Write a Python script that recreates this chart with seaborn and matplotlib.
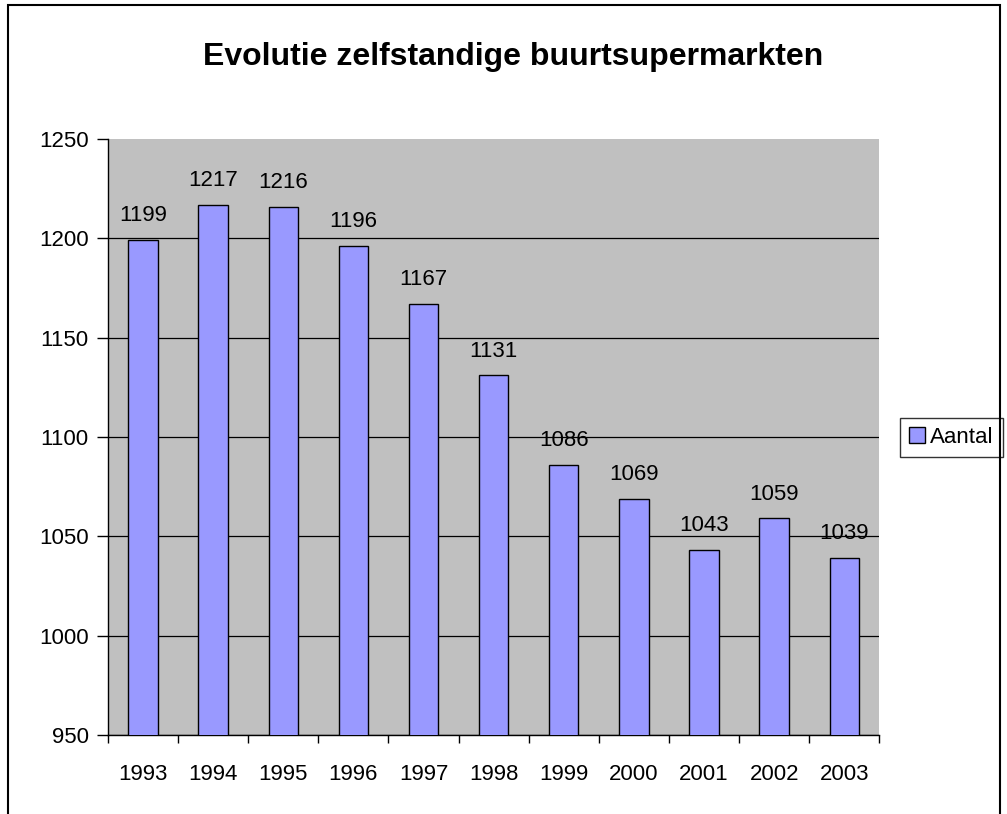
import pandas as pd
import matplotlib.pyplot as plt
import matplotlib.patches as mpatches
import seaborn as sns

years = ['1993', '1994', '1995', '1996', '1997', '1998', '1999', '2000', '2001', '2002', '2003']
aantal = [1199, 1217, 1216, 1196, 1167, 1131, 1086, 1069, 1043, 1059, 1039]

data = pd.DataFrame({'jaar': years, 'Aantal': aantal})

sns.set_style('white')
plt.rcParams['font.family'] = ['Liberation Sans', 'DejaVu Sans']
plt.rcParams['text.color'] = 'black'
plt.rcParams['xtick.color'] = 'black'
plt.rcParams['ytick.color'] = 'black'

fig = plt.figure(figsize=(10.07, 8.14), dpi=100)
ax = fig.add_axes([0.1072, 0.0971, 0.766, 0.7321])
ax.set_facecolor('#C0C0C0')

sns.barplot(x='jaar', y='Aantal', data=data, color='#9999FF', saturation=1,
            width=0.42, edgecolor='black', linewidth=1, ax=ax, label='Aantal', zorder=3)

ax.set_ylim(950, 1250)
ax.set_xlim(-0.5, len(years) - 0.5)
ax.set_yticks(range(950, 1251, 50))
ax.yaxis.grid(True, color='black', linewidth=0.9, zorder=1)
ax.get_ygridlines()[-1].set_visible(False)
ax.set_axisbelow(True)

for sp in ['top', 'right']:
    ax.spines[sp].set_visible(False)
for sp in ['left', 'bottom']:
    ax.spines[sp].set_color('black')
    ax.spines[sp].set_linewidth(1)

ax.tick_params(axis='y', direction='out', length=8, width=1, color='black', labelsize=16, pad=6, left=True)
ax.tick_params(axis='x', which='major', length=0, labelsize=16, pad=21)
ax.set_xticks([i - 0.5 for i in range(len(years) + 1)], minor=True)
ax.tick_params(axis='x', which='minor', direction='out', length=6, width=1, color='black', bottom=True)
ax.set_xlabel('')
ax.set_ylabel('')

for i, v in enumerate(aantal):
    ax.annotate(str(v), (i, v), xytext=(0, 10), textcoords='offset points',
                ha='center', va='bottom', fontsize=16)

fig.text(0.51, 0.930, 'Evolutie zelfstandige buurtsupermarkten', ha='center', va='center',
         fontsize=23, fontweight='bold')

leg = ax.legend(loc='center left', bbox_to_anchor=(0.894, 0.463), bbox_transform=fig.transFigure,
                fontsize=16, frameon=True, fancybox=False, edgecolor='black',
                handlelength=0.7, handleheight=0.7, handletextpad=0.25, borderpad=0.4,
                borderaxespad=0)
leg.get_frame().set_linewidth(1)

fig.patches.append(mpatches.Rectangle((0.008, -0.01), 0.985, 1.004, transform=fig.transFigure,
                                      fill=False, edgecolor='black', linewidth=1.5))

plt.savefig('out.png', dpi=100)
